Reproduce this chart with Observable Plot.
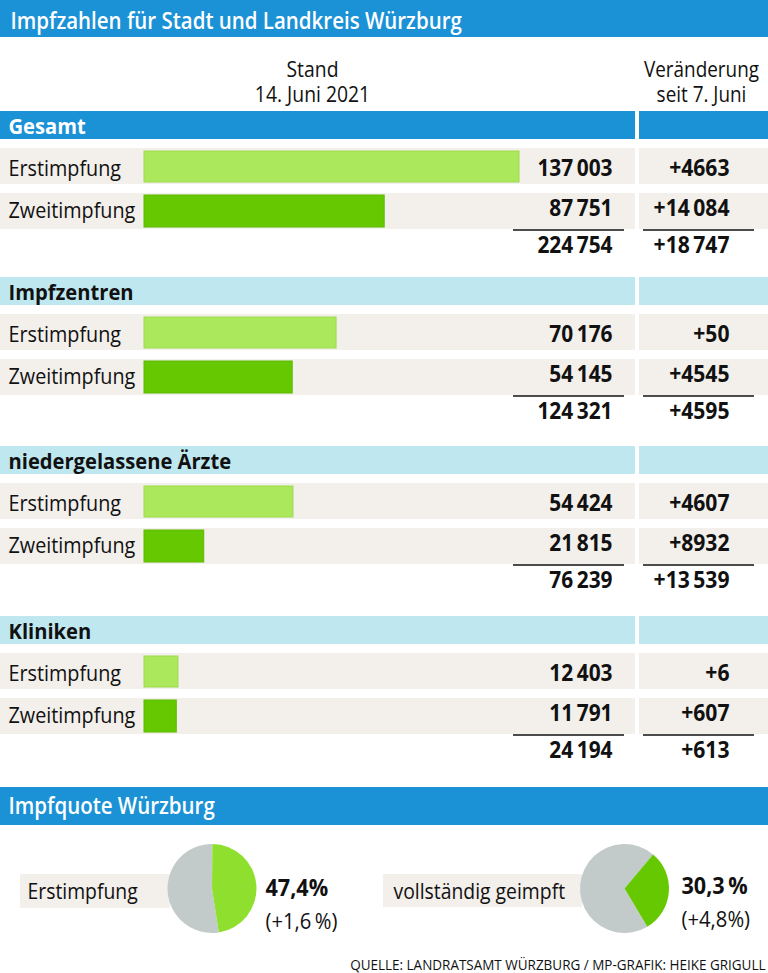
<!DOCTYPE html>
<html><head><meta charset="utf-8">
<script src="https://cdn.jsdelivr.net/npm/d3@7"></script>
<script src="https://cdn.jsdelivr.net/npm/@observablehq/plot@0.6"></script>
<style>
body{margin:0;background:#fff}
svg{display:block}
</style>
</head><body><div id="chart"></div>
<script>
// ---------- data ----------
const title = "Impfzahlen für Stadt und Landkreis Würzburg";
const standHead = ["Stand", "14. Juni 2021"];
const changeHead = ["Veränderung", "seit 7. Juni"];
const sections = ["Gesamt", "Impfzentren", "niedergelassene Ärzte", "Kliniken"];
const doses = ["Erstimpfung", "Zweitimpfung"];
const firstDose = [137003, 70176, 54424, 12403];
const secondDose = [87751, 54145, 21815, 11791];
const firstChange = [4663, 50, 4607, 6];
const secondChange = [14084, 4545, 8932, 607];
const totals = [224754, 124321, 76239, 24194];
const totalChanges = [18747, 4595, 13539, 613];
const quoteTitle = "Impfquote Würzburg";
const quoteLabels = ["Erstimpfung", "vollständig geimpft"];
const quoteValues = [47.4, 30.3];
const quoteChanges = [1.6, 4.8];
const source = "QUELLE: LANDRATSAMT WÜRZBURG / MP-GRAFIK: HEIKE GRIGULL";

// ---------- styling / layout ----------
const W = 768, H = 973;
// the trailing "sxNN" token is a dummy family used to apply a horizontal condensing factor
const F = sx => `'Open Sans','Roboto',sans-serif,sx${sx}`;
const BLUE = "#1b91d6", LIGHTBLUE = "#bfe7f0", BAND = "#f3efeb";
const GREEN1 = "#abe85c", GREEN2 = "#66c800", PIEGREEN1 = "#8fdf2e", GREY = "#c3cbca";
const INK = "#111";
const sectionTop = [111, 277, 446, 616];
const mid = (baseline, fs) => baseline - 0.32 * fs;
const top1 = (baseline, fs) => baseline - 0.71 * fs;

const fmt = v => v >= 10000 ? d3.format(",")(v).replace(",", "\u2009") : String(v);
const dec = v => v.toFixed(1).replace(".", ",");

const LBL = 22, NUM = 24, SEC = 21, HEAD = 22;

const headers = sections.map((name, i) => ({
  name, i, y1: sectionTop[i], y2: sectionTop[i] + 28,
  fill: i === 0 ? BLUE : LIGHTBLUE,
  ty: mid(sectionTop[i] + 22, SEC)
}));

const rows = [];
sections.forEach((s, i) => {
  const t = sectionTop[i];
  [firstDose[i], secondDose[i]].forEach((v, j) => {
    rows.push({
      section: s, dose: doses[j], value: v, j,
      change: j === 0 ? firstChange[i] : secondChange[i],
      band1: t + (j ? 82 : 37), band2: t + (j ? 118 : 73),
      bar1: t + (j ? 84 : 40), bar2: t + (j ? 116 : 71),
      ty: mid(t + (j ? 106 : 64), LBL), ny: mid(t + (j ? 104 : 64), NUM)
    });
  });
});

const sums = sections.map((s, i) => ({
  total: totals[i], change: totalChanges[i],
  line: sectionTop[i] + 118.5, ny: mid(sectionTop[i] + 141, NUM)
}));

const quotes = quoteLabels.map((label, i) => ({
  label, value: quoteValues[i], change: quoteChanges[i],
  cx: [212, 624.5][i], cy: 888.5, r: 44.5,
  start: [0.5, 40][i], color: [PIEGREEN1, GREEN2][i]
}));

function pieMark(data) {
  return () => {
    const g = d3.create("svg:g");
    const arc = d3.arc();
    for (const d of data) {
      const a0 = d.start * Math.PI / 180;
      const a1 = a0 + d.value / 100 * 2 * Math.PI;
      g.append("path")
        .attr("transform", `translate(${d.cx},${d.cy})`)
        .attr("d", arc({innerRadius: 0, outerRadius: d.r, startAngle: a1, endAngle: a0 + 2 * Math.PI}))
        .attr("fill", GREY);
      g.append("path")
        .attr("transform", `translate(${d.cx},${d.cy})`)
        .attr("d", arc({innerRadius: 0, outerRadius: d.r, startAngle: a0, endAngle: a1}))
        .attr("fill", d.color);
    }
    return g.node();
  };
}

const T = (data, o) => Plot.text(data, {frameAnchor: "left", fill: INK, ...o});

const chart = Plot.plot({
  width: W, height: H, margin: 0,
  style: {background: "white"},
  x: {domain: [0, d3.max(firstDose)], range: [144, 519], axis: null},
  y: {type: "identity", axis: null},
  marks: [
    // title bar
    Plot.rect([{y1: 0, y2: 37}], {y1: "y1", y2: "y2", fill: BLUE}),
    T([title], {text: d => d, y: () => mid(28, 23), dx: 10, textAnchor: "start", fill: "white", fontSize: 23, fontWeight: 600, fontFamily: F(89)}),
    // column heads
    T([standHead.join("\n")], {text: d => d, y: () => top1(74, HEAD), lineAnchor: "top", lineHeight: 25.5 / HEAD, dx: 312, textAnchor: "middle", fontSize: HEAD, fontFamily: F(88)}),
    T([changeHead.join("\n")], {text: d => d, y: () => top1(74, HEAD), lineAnchor: "top", lineHeight: 25.5 / HEAD, dx: 701, textAnchor: "middle", fontSize: HEAD, fontFamily: F(86)}),
    // section headers
    Plot.rect(headers, {y1: "y1", y2: "y2", fill: "fill", insetRight: W - 635}),
    Plot.rect(headers, {y1: "y1", y2: "y2", fill: "fill", insetLeft: 639}),
    T(headers.filter(d => d.i === 0), {text: "name", y: "ty", dx: 8, textAnchor: "start", fill: "white", fontSize: SEC, fontWeight: "bold", fontFamily: F(96)}),
    T(headers.filter(d => d.i > 0), {text: "name", y: "ty", dx: 8, textAnchor: "start", fontSize: SEC, fontWeight: "bold", fontFamily: F(96)}),
    // row bands
    Plot.rect(rows, {y1: "band1", y2: "band2", fill: BAND, insetRight: W - 635}),
    Plot.rect(rows, {y1: "band1", y2: "band2", fill: BAND, insetLeft: 639}),
    // bars
    Plot.rect(rows.filter(d => d.j === 0), {x1: () => 0, x2: "value", y1: "bar1", y2: "bar2", fill: GREEN1, stroke: "#9ddb4c", strokeWidth: 1}),
    Plot.rect(rows.filter(d => d.j === 1), {x1: () => 0, x2: "value", y1: "bar1", y2: "bar2", fill: GREEN2, stroke: "#5cba00", strokeWidth: 1}),
    // labels and numbers
    T(rows, {text: "dose", y: "ty", dx: 8, textAnchor: "start", fontSize: LBL, fontFamily: F(90)}),
    T(rows, {text: d => fmt(d.value), y: "ny", dx: 612, textAnchor: "end", fontSize: NUM, fontWeight: "bold", fontFamily: F(87)}),
    T(rows, {text: d => "+" + fmt(d.change), y: "ny", dx: 729, textAnchor: "end", fontSize: NUM, fontWeight: "bold", fontFamily: F(88)}),
    // sums
    Plot.ruleY(sums, {y: "line", insetLeft: 513, insetRight: W - 624, stroke: INK, strokeWidth: 1.6}),
    Plot.ruleY(sums, {y: "line", insetLeft: 643, insetRight: W - 754, stroke: INK, strokeWidth: 1.6}),
    T(sums, {text: d => fmt(d.total), y: "ny", dx: 612, textAnchor: "end", fontSize: NUM, fontWeight: "bold", fontFamily: F(87)}),
    T(sums, {text: d => "+" + fmt(d.change), y: "ny", dx: 729, textAnchor: "end", fontSize: NUM, fontWeight: "bold", fontFamily: F(88)}),
    // Impfquote
    Plot.rect([{y1: 787, y2: 825}], {y1: "y1", y2: "y2", fill: BLUE}),
    T([quoteTitle], {text: d => d, y: () => mid(813, 23), dx: 8, textAnchor: "start", fill: "white", fontSize: 23, fontWeight: 600, fontFamily: F(89)}),
    Plot.rect(quotes.slice(0, 1), {y1: () => 874, y2: () => 908, fill: BAND, insetLeft: 20, insetRight: W - 170}),
    Plot.rect(quotes.slice(1), {y1: () => 874, y2: () => 907, fill: BAND, insetLeft: 383, insetRight: W - 582}),
    pieMark(quotes),
    T(quotes.slice(0, 1), {text: "label", y: () => mid(898, LBL), dx: 27, textAnchor: "start", fontSize: LBL, fontFamily: F(88)}),
    T(quotes.slice(1), {text: "label", y: () => mid(898, LBL), dx: 393, textAnchor: "start", fontSize: LBL, fontFamily: F(88)}),
    T(quotes.slice(0, 1), {text: d => dec(d.value) + "%", y: () => mid(895, NUM), dx: 265, textAnchor: "start", fontSize: NUM, fontWeight: "bold", fontFamily: F(90)}),
    T(quotes.slice(1), {text: d => dec(d.value) + "\u2009%", y: () => mid(893, NUM), dx: 681, textAnchor: "start", fontSize: NUM, fontWeight: "bold", fontFamily: F(90)}),
    T(quotes.slice(0, 1), {text: d => "(+" + dec(d.change) + "\u2009%)", y: () => mid(928, LBL), dx: 265, textAnchor: "start", fontSize: LBL, fontFamily: F(92)}),
    T(quotes.slice(1), {text: d => "(+" + dec(d.change) + "%)", y: () => mid(926, LBL), dx: 681, textAnchor: "start", fontSize: LBL, fontFamily: F(92)}),
    // source
    T([source], {text: d => d, y: () => mid(969, 15), dx: 765, textAnchor: "end", fontSize: 15, fontFamily: F(90), style: "letter-spacing:0.4px"})
  ]
});

// apply horizontal condensing (the reference uses a condensed typeface)
chart.querySelectorAll("g[font-family]").forEach(g => {
  const m = /sx(\d+)/.exec(g.getAttribute("font-family"));
  if (!m) return;
  const s = +m[1] / 100;
  g.querySelectorAll("text").forEach(t => {
    const tr = t.getAttribute("transform");
    if (tr) t.setAttribute("transform", tr + ` scale(${s},1)`);
    else {
      const x = +(t.getAttribute("x") || 0), y = +(t.getAttribute("y") || 0);
      t.removeAttribute("x"); t.removeAttribute("y");
      t.setAttribute("transform", `translate(${x},${y}) scale(${s},1)`);
    }
  });
});
document.getElementById("chart").append(chart);
</script>
</body></html>
